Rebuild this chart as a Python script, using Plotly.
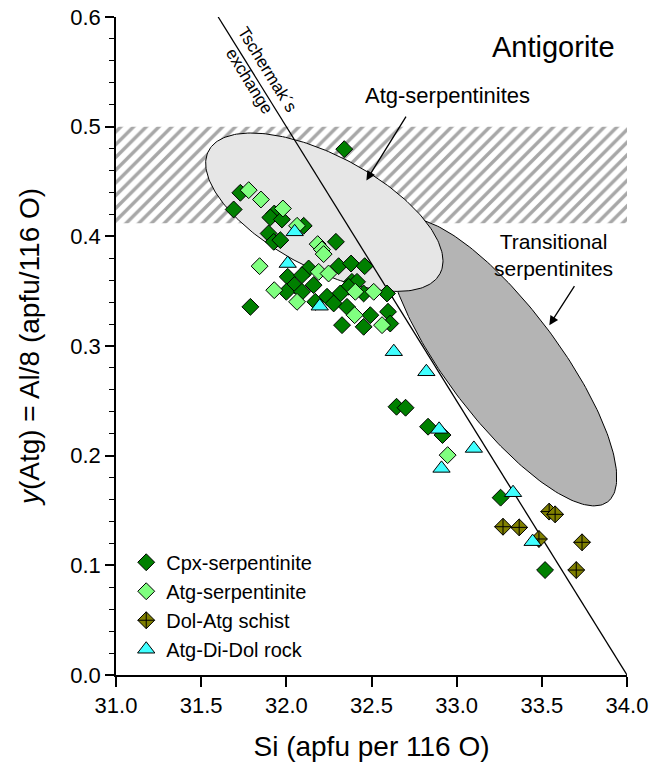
import numpy as np
import plotly.graph_objects as go

# ---------------- data ----------------
cpx_si = [32.340, 31.730, 31.691, 31.929, 31.906, 31.974, 32.102, 31.896, 31.926, 31.965,
          32.291, 32.131, 32.307, 32.380, 32.460, 32.008, 32.092, 32.047, 32.160, 32.385,
          32.415, 32.366, 32.000, 32.092, 32.454, 32.591, 32.317, 32.239, 31.789, 32.170,
          32.278, 32.356, 32.327, 32.454, 32.493, 32.597, 32.610, 32.647, 32.700, 32.832,
          32.917, 33.258, 33.519]
cpx_y = [0.4795, 0.4397, 0.4245, 0.4208, 0.4172, 0.4154, 0.4096, 0.4026, 0.3950, 0.3965,
         0.3950, 0.3707, 0.3728, 0.3752, 0.3728, 0.3631, 0.3646, 0.3555, 0.3555, 0.3585,
         0.3585, 0.3540, 0.3494, 0.3494, 0.3479, 0.3479, 0.3479, 0.3449, 0.3357, 0.3403,
         0.3388, 0.3357, 0.3190, 0.3175, 0.3281, 0.3312, 0.3205, 0.2446, 0.2437, 0.2264,
         0.2188, 0.1617, 0.0957]

atg_si = [31.779, 31.851, 31.980, 32.063, 32.184, 32.209, 32.219, 31.843, 32.190, 32.248,
          31.929, 32.405, 32.513, 32.063, 32.401, 32.562, 32.947]
atg_y = [0.4421, 0.4336, 0.4254, 0.4096, 0.3929, 0.3880, 0.3838, 0.3728, 0.3676, 0.3661,
         0.3509, 0.3494, 0.3494, 0.3403, 0.3281, 0.3190, 0.2005]

dol_si = [33.543, 33.578, 33.272, 33.367, 33.483, 33.736, 33.702]
dol_y = [0.1490, 0.1465, 0.1352, 0.1346, 0.1240, 0.1210, 0.0957]

add_si = [32.049, 32.008, 32.196, 32.631, 32.822, 32.897, 33.101, 32.911, 33.331, 33.446]
add_y = [0.4041, 0.3752, 0.3363, 0.2948, 0.2765, 0.2240, 0.2066, 0.1884, 0.1662, 0.1216]

series_names = ["Cpx-serpentinite", "Atg-serpentinite", "Dol-Atg schist", "Atg-Di-Dol rock"]

x_ticks = [31.0, 31.5, 32.0, 32.5, 33.0, 33.5, 34.0]
y_ticks = [0.0, 0.1, 0.2, 0.3, 0.4, 0.5, 0.6]

# reference features
tsch_si = [31.6, 34.0]          # Tschermak's exchange line y = (34 - Si)/4
tsch_y = [(34.0 - s) / 4.0 for s in tsch_si]
hatch_band = (0.412, 0.5)       # y band hatched

# ---------------- layout geometry ----------------
W, H = 662, 764
ML, MR, MT, MB = 116, 35, 17, 89
XR = (31.0, 34.0)
YR = (0.0, 0.6)
sx = (W - ML - MR) / (XR[1] - XR[0])   # px per Si unit
sy = (H - MT - MB) / (YR[1] - YR[0])   # px per y unit


def ellipse(cx, cy, a_px, b_px, ang_deg, n=240):
    """Ellipse defined in screen pixels around a data-space centre."""
    t = np.linspace(0, 2 * np.pi, n)
    th = np.deg2rad(ang_deg)
    dx = a_px * np.cos(t) * np.cos(th) - b_px * np.sin(t) * np.sin(th)
    dy = a_px * np.cos(t) * np.sin(th) + b_px * np.sin(t) * np.cos(th)  # screen down +
    return cx + dx / sx, cy - dy / sy


fig = go.Figure()

# hatched band
fig.add_trace(go.Scatter(
    x=[XR[0], XR[1], XR[1], XR[0], XR[0]],
    y=[hatch_band[0], hatch_band[0], hatch_band[1], hatch_band[1], hatch_band[0]],
    mode="lines", line=dict(width=0), fill="toself", fillcolor="white",
    fillpattern=dict(shape="/", size=9, solidity=0.38, fgcolor="#505050", bgcolor="white"),
    showlegend=False, hoverinfo="skip"))

# transitional serpentinites ellipse
ex, ey = ellipse(33.268, 0.2853, 175, 56, 53)
fig.add_trace(go.Scatter(x=ex, y=ey, mode="lines", line=dict(color="black", width=1),
                         fill="toself", fillcolor="#b4b4b4", showlegend=False, hoverinfo="skip"))
# Atg-serpentinites ellipse
ex, ey = ellipse(32.223, 0.422, 131, 56.5, 28)
fig.add_trace(go.Scatter(x=ex, y=ey, mode="lines", line=dict(color="black", width=1),
                         fill="toself", fillcolor="#e6e6e6", showlegend=False, hoverinfo="skip"))

# Tschermak line
fig.add_trace(go.Scatter(x=tsch_si, y=tsch_y, mode="lines", line=dict(color="black", width=1.3),
                         showlegend=False, hoverinfo="skip"))

mline = dict(color="black", width=1)
fig.add_trace(go.Scatter(x=cpx_si, y=cpx_y, mode="markers", name=series_names[0],
                         marker=dict(symbol="diamond", size=13, color="#008000", line=mline)))
fig.add_trace(go.Scatter(x=atg_si, y=atg_y, mode="markers", name=series_names[1],
                         marker=dict(symbol="diamond", size=13, color="#80ff80", line=mline)))
fig.add_trace(go.Scatter(x=dol_si, y=dol_y, mode="markers", name=series_names[2],
                         marker=dict(symbol="diamond-cross", size=13, color="#808000", line=mline)))
fig.add_trace(go.Scatter(x=add_si, y=add_y, mode="markers", name=series_names[3],
                         marker=dict(symbol="triangle-up", size=15, color="#40ffff", line=mline)))

FONT = "Arial, Liberation Sans, sans-serif"


def label(x, y, text, size, **kw):
    d = dict(x=x, y=y, xref="x", yref="y", text=text, showarrow=False,
             xanchor="center", yanchor="middle", font=dict(size=size, color="black", family=FONT))
    d.update(kw)
    return d


annotations = [
    label(33.944, 0.573, "Antigorite", 29, xanchor="right"),
    label(32.946, 0.528, "Atg-serpentinites", 22),
    label(33.568, 0.3833, "Transitional<br>serpentinites", 21),
    label(31.887, 0.5520, "Tschermak\u00b4s", 17, textangle=58.2),
    label(31.783, 0.5410, "exchange", 17, textangle=58.2),
    # arrows
    dict(x=32.47, y=0.451, ax=32.708, ay=0.5105, xref="x", yref="y", axref="x", ayref="y",
         text="", showarrow=True, arrowhead=2, arrowsize=1.4, arrowwidth=1.3, arrowcolor="black",
         standoff=0),
    dict(x=33.544, y=0.319, ax=33.697, ay=0.356, xref="x", yref="y", axref="x", ayref="y",
         text="", showarrow=True, arrowhead=2, arrowsize=1.4, arrowwidth=1.3, arrowcolor="black",
         standoff=0),
]

axis_common = dict(showgrid=False, zeroline=False, showline=True, linecolor="black",
                   linewidth=1.5, tickcolor="black", tickwidth=1.5, automargin=False)

fig.update_layout(
    width=W, height=H, margin=dict(l=ML, r=MR, t=MT, b=MB, autoexpand=False),
    paper_bgcolor="white", plot_bgcolor="white",
    font=dict(family=FONT, color="black", size=22),
    showlegend=True,
    legend=dict(x=0.02, y=0.201, xanchor="left", yanchor="top", bgcolor="rgba(0,0,0,0)",
                font=dict(size=20, family=FONT), tracegroupgap=0, itemwidth=30),
    annotations=annotations,
    xaxis=dict(range=list(XR), tickvals=x_ticks, ticktext=[f"{v:.1f}" for v in x_ticks],
               ticks="outside", ticklen=10,
               tickfont=dict(size=22, family=FONT),
               title=dict(text="Si (apfu per 116 O)", font=dict(size=28, family=FONT), standoff=19),
               **axis_common),
    xaxis2=dict(range=list(XR), overlaying="x", side="top", tickvals=x_ticks,
                showticklabels=False, ticks="inside", ticklen=9,
                minor=dict(dtick=0.1, tick0=31.0, ticks="inside", ticklen=5, tickcolor="black",
                           tickwidth=1),
                **axis_common),
    yaxis=dict(range=list(YR), tickvals=y_ticks, ticktext=[f"{v:.1f}" for v in y_ticks],
               ticks="outside", ticklen=9,
               minor=dict(dtick=0.02, tick0=0, ticks="outside", ticklen=5, tickcolor="black",
                          tickwidth=1),
               tickfont=dict(size=22, family=FONT),
               title=dict(text="<i>y</i>(Atg) = Al/8 (apfu/116 O)", font=dict(size=28, family=FONT),
                          standoff=22),
               **axis_common),
    yaxis2=dict(range=list(YR), overlaying="y", side="right", tickvals=y_ticks,
                showticklabels=False, ticks="inside", ticklen=8, **axis_common),
)

fig.write_html("out.html")
